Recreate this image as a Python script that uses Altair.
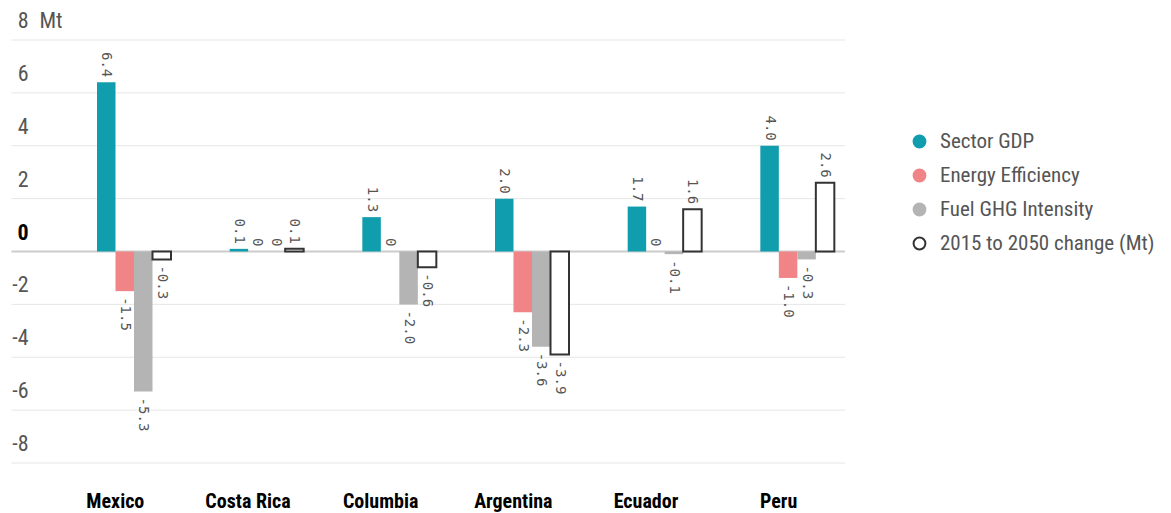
import altair as alt
import pandas as pd

countries = ["Mexico", "Costa Rica", "Columbia", "Argentina", "Ecuador", "Peru"]
series = ["Sector GDP", "Energy Efficiency", "Fuel GHG Intensity", "2015 to 2050 change (Mt)"]
sector_gdp = [6.4, 0.1, 1.3, 2.0, 1.7, 4.0]
energy_eff = [-1.5, 0.0, 0.0, -2.3, 0.0, -1.0]
fuel_ghg = [-5.3, 0.0, -2.0, -3.6, -0.1, -0.3]
change = [-0.3, 0.1, -0.6, -3.9, 1.6, 2.6]

tick_values = [-8, -6, -4, -2, 0, 2, 4, 6, 8]
tick_labels = ["-8", "-6", "-4", "-2", "0", "2", "4", "6", "8"]
unit_label = "Mt"

fills = ["#109DAE", "#F08486", "#B4B4B4", "#FFFFFF"]
strokes = ["#109DAE", "#F08486", "#B4B4B4", "#333333"]

rows = []
for vals, s in zip([sector_gdp, energy_eff, fuel_ghg, change], series):
    for c, v in zip(countries, vals):
        lab = "0" if v == 0 else f"{v:.1f}"
        rows.append({"country": c, "series": s, "value": v, "label": lab})
df = pd.DataFrame(rows)

ticks = pd.DataFrame({"value": tick_values, "label": tick_labels})
unit = pd.DataFrame({"value": [8], "label": [unit_label]})

W, H = 796, 423
FONT = "Roboto Condensed, Liberation Sans Narrow, Roboto, sans-serif"
MONO = "DejaVu Sans Mono, Liberation Mono, monospace"

yscale = alt.Scale(domain=[-8, 8], nice=False, zero=False)

grid = alt.Chart(ticks).mark_rule().encode(
    y=alt.Y("value:Q", scale=yscale, axis=None),
    x=alt.value(-37.5),
    x2=alt.value(W),
    color=alt.condition("datum.value == 0", alt.value("#CCCCCC"), alt.value("#E6E6E6")),
    strokeWidth=alt.condition("datum.value == 0", alt.value(2), alt.value(1)),
)

ylabels = alt.Chart(ticks).transform_filter("datum.value != 0").mark_text(
    align="right", baseline="alphabetic", dy=-12, fontSize=22, font=FONT, color="#555555"
).encode(
    y=alt.Y("value:Q", scale=yscale, axis=None),
    x=alt.value(-20.5),
    text="label:N",
)

yzero = alt.Chart(ticks).transform_filter("datum.value == 0").mark_text(
    align="right", baseline="alphabetic", dy=-12, fontSize=22, font=FONT,
    color="#000000", fontWeight="bold"
).encode(
    y=alt.Y("value:Q", scale=yscale, axis=None),
    x=alt.value(-20.5),
    text="label:N",
)

yunit = alt.Chart(unit).mark_text(
    align="left", baseline="alphabetic", dy=-12, fontSize=22, font=FONT, color="#555555"
).encode(
    y=alt.Y("value:Q", scale=yscale, axis=None),
    x=alt.value(-9.5),
    text="label:N",
)

xenc = alt.X(
    "country:N",
    sort=countries,
    scale=alt.Scale(paddingInner=0, paddingOuter=0),
    axis=alt.Axis(
        title=None, domain=False, ticks=False, grid=False, labelAngle=0,
        labelFont=FONT, labelFontSize=20, labelFontWeight="bold", labelColor="#000000",
        labelPadding=28,
    ),
)
xoff = alt.XOffset("series:N", sort=series, scale=alt.Scale(range=[48, 122], paddingInner=0, paddingOuter=0))

bars = alt.Chart(df).mark_bar().encode(
    x=xenc,
    xOffset=xoff,
    y=alt.Y("value:Q", scale=yscale, axis=None),
    fill=alt.Fill(
        "series:N", sort=series,
        scale=alt.Scale(domain=series, range=fills),
        legend=alt.Legend(title=None),
    ),
    stroke=alt.Stroke(
        "series:N", sort=series,
        scale=alt.Scale(domain=series, range=strokes),
        legend=alt.Legend(title=None),
    ),
    strokeWidth=alt.condition(
        "datum.series == '2015 to 2050 change (Mt)'", alt.value(2), alt.value(0)
    ),
)

pos_labels = alt.Chart(df).transform_filter("datum.value >= 0").mark_text(
    angle=90, align="right", baseline="middle", dx=-5, fontSize=14, font=MONO, color="#555555"
).encode(
    x=xenc, xOffset=xoff,
    y=alt.Y("value:Q", scale=yscale, axis=None),
    text="label:N",
)

neg_labels = alt.Chart(df).transform_filter("datum.value < 0").mark_text(
    angle=90, align="left", baseline="middle", dx=6, fontSize=14, font=MONO, color="#555555"
).encode(
    x=xenc, xOffset=xoff,
    y=alt.Y("value:Q", scale=yscale, axis=None),
    text="label:N",
)

chart = alt.layer(grid, ylabels, yzero, yunit, bars, pos_labels, neg_labels).properties(
    width=W, height=H,
    padding={"left": 2, "top": 2, "right": 0, "bottom": 5},
).configure_view(stroke=None).configure_legend(
    orient="none", legendX=860, legendY=91,
    symbolType="circle", symbolSize=140, symbolStrokeWidth=2,
    labelFont=FONT, labelFontSize=21, labelColor="#555555",
    rowPadding=12, labelOffset=10, labelLimit=400,
)

chart.save("out.html", embed_options={"renderer": "svg", "actions": False})
